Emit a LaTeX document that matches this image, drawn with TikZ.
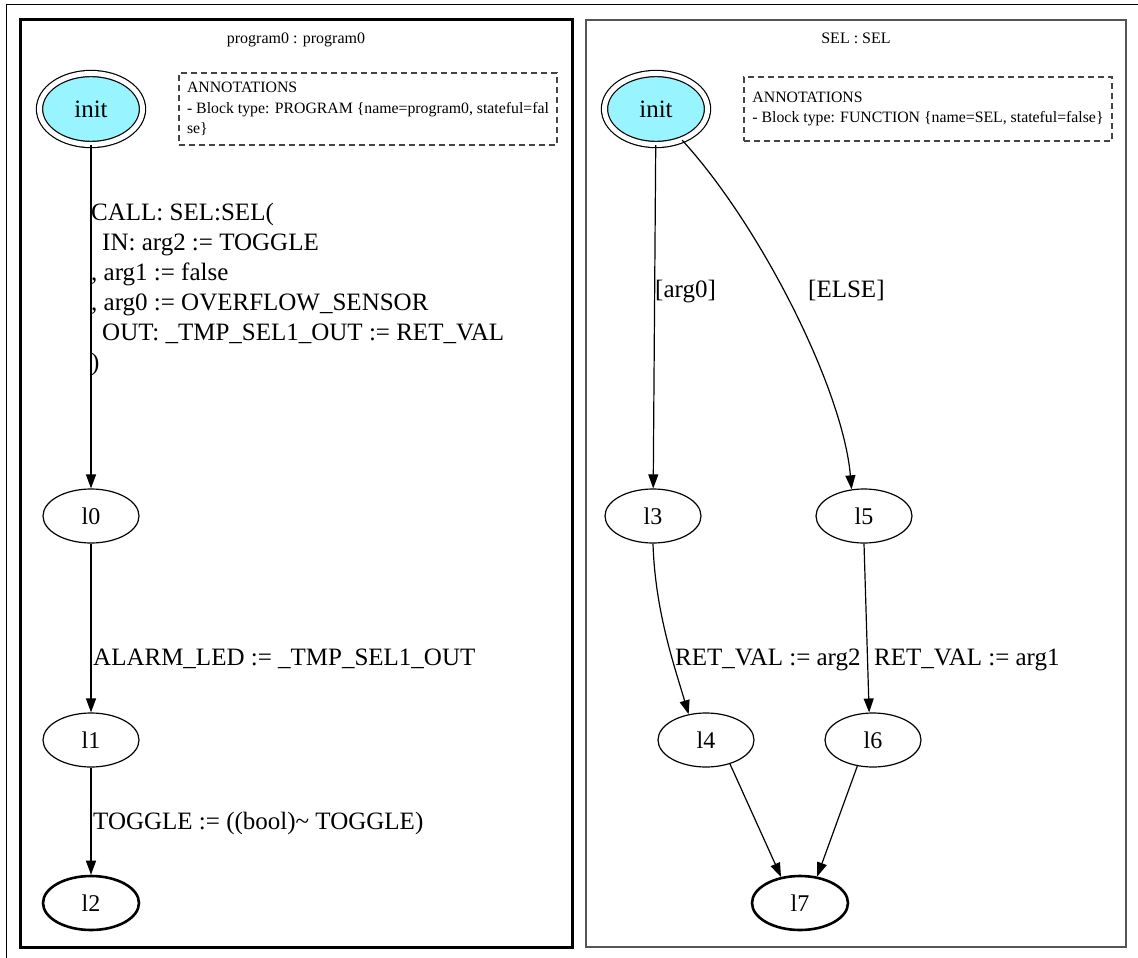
\documentclass[tikz,border=0pt]{standalone}
\usepackage{fontspec}
\setmainfont{Liberation Serif}
\usetikzlibrary{arrows.meta,shapes.geometric}
\definecolor{initfill}{HTML}{98F5FF}
\definecolor{clgray}{HTML}{555555}
\definecolor{dashgray}{HTML}{444444}
\begin{document}
\begin{tikzpicture}[x=1pt,y=-1pt,
  state/.style={ellipse,draw,line width=1.2pt,minimum width=96pt,minimum height=54pt,inner sep=0pt,font=\fontsize{24}{28}\selectfont},
  finalstate/.style={state,line width=2.6pt},
  initstate/.style={state,fill=initfill,double,double distance=5pt,line width=1.2pt,minimum width=103pt,minimum height=71pt,font=\fontsize{25}{28}\selectfont},
  edge/.style={line width=1.2pt,-{Triangle[length=14pt,width=10pt]}},
  lbl/.style={inner sep=0pt,anchor=base west,font=\fontsize{25}{30}\selectfont},
  annot/.style={draw=dashgray,dash pattern=on 6pt off 4pt,line width=1.5pt,inner sep=0pt,align=left,font=\fontsize{15.8}{20.5}\selectfont},
  title/.style={inner sep=0pt,font=\fontsize{16}{19}\selectfont}
]
\useasboundingbox (0,0) rectangle (1138,958);
% page edges
\draw[line width=1pt] (6,958) -- (6,5) -- (1138,5);
% clusters
\draw[line width=3pt] (20,20) rectangle (572,947);
\draw[clgray,line width=2pt] (586,20) rectangle (1126,947);
\node[title] (t1) at (296,40) {program0 : program0};
\node[title] (t2) at (856,38) {SEL : SEL};
% annotations
\node[annot,minimum width=378pt,minimum height=72pt] (a1) at (368,109)
  {ANNOTATIONS\\- Block type: PROGRAM \{name=program0, stateful=fal\\se\}};
\node[annot,minimum width=368pt,minimum height=64pt] (a2) at (928,109)
  {ANNOTATIONS\\- Block type: FUNCTION \{name=SEL, stateful=false\}};
% left graph
\node[initstate] (init) at (91,109) {init};
\node[state] (l0) at (91,516) {l0};
\node[state] (l1) at (91,740) {l1};
\node[finalstate] (l2) at (91,903) {l2};
\draw[edge] (init) -- (l0);
\draw[edge] (l0) -- (l1);
\draw[edge] (l1) -- (l2);
\node[inner sep=0pt,anchor=north west,align=left,font=\fontsize{25}{30}\selectfont] (c1) at (91,203)
  {CALL: SEL:SEL(\\\hspace*{11pt}IN: arg2 := TOGGLE\\, arg1 := false\\, arg0 := OVERFLOW\_SENSOR\\\hspace*{11pt}OUT: \_TMP\_SEL1\_OUT := RET\_VAL\\)};
\node[lbl] (c2) at (93,665) {ALARM\_LED := \_TMP\_SEL1\_OUT};
\node[lbl] (c3) at (93,829) {TOGGLE := ((bool)\textasciitilde{} TOGGLE)};
% right graph
\node[initstate] (rinit) at (656,109) {init};
\node[state] (l3) at (653,516) {l3};
\node[state] (l5) at (864,516) {l5};
\node[state] (l4) at (706,740) {l4};
\node[state] (l6) at (873,740) {l6};
\node[finalstate] (l7) at (800,903) {l7};
\draw[edge] (rinit) -- (l3);
\draw[edge] (rinit.-50) .. controls (760,225) and (843,389) .. (l5.115);
\draw[edge] (l3.south) .. controls (655,610) and (674,665) .. (l4.124);
\draw[edge] (l5.south) -- (l6.98);
\draw[edge] (l4.-45) -- (l7.126);
\draw[edge] (l6.-121) -- (l7.57);
\node[lbl] (e1) at (655,297) {[arg0]};
\node[lbl] (e2) at (808,297) {[ELSE]};
\node[lbl] (e3) at (675,665) {RET\_VAL := arg2};
\node[lbl] (e4) at (874,665) {RET\_VAL := arg1};
\end{tikzpicture}
\end{document}
